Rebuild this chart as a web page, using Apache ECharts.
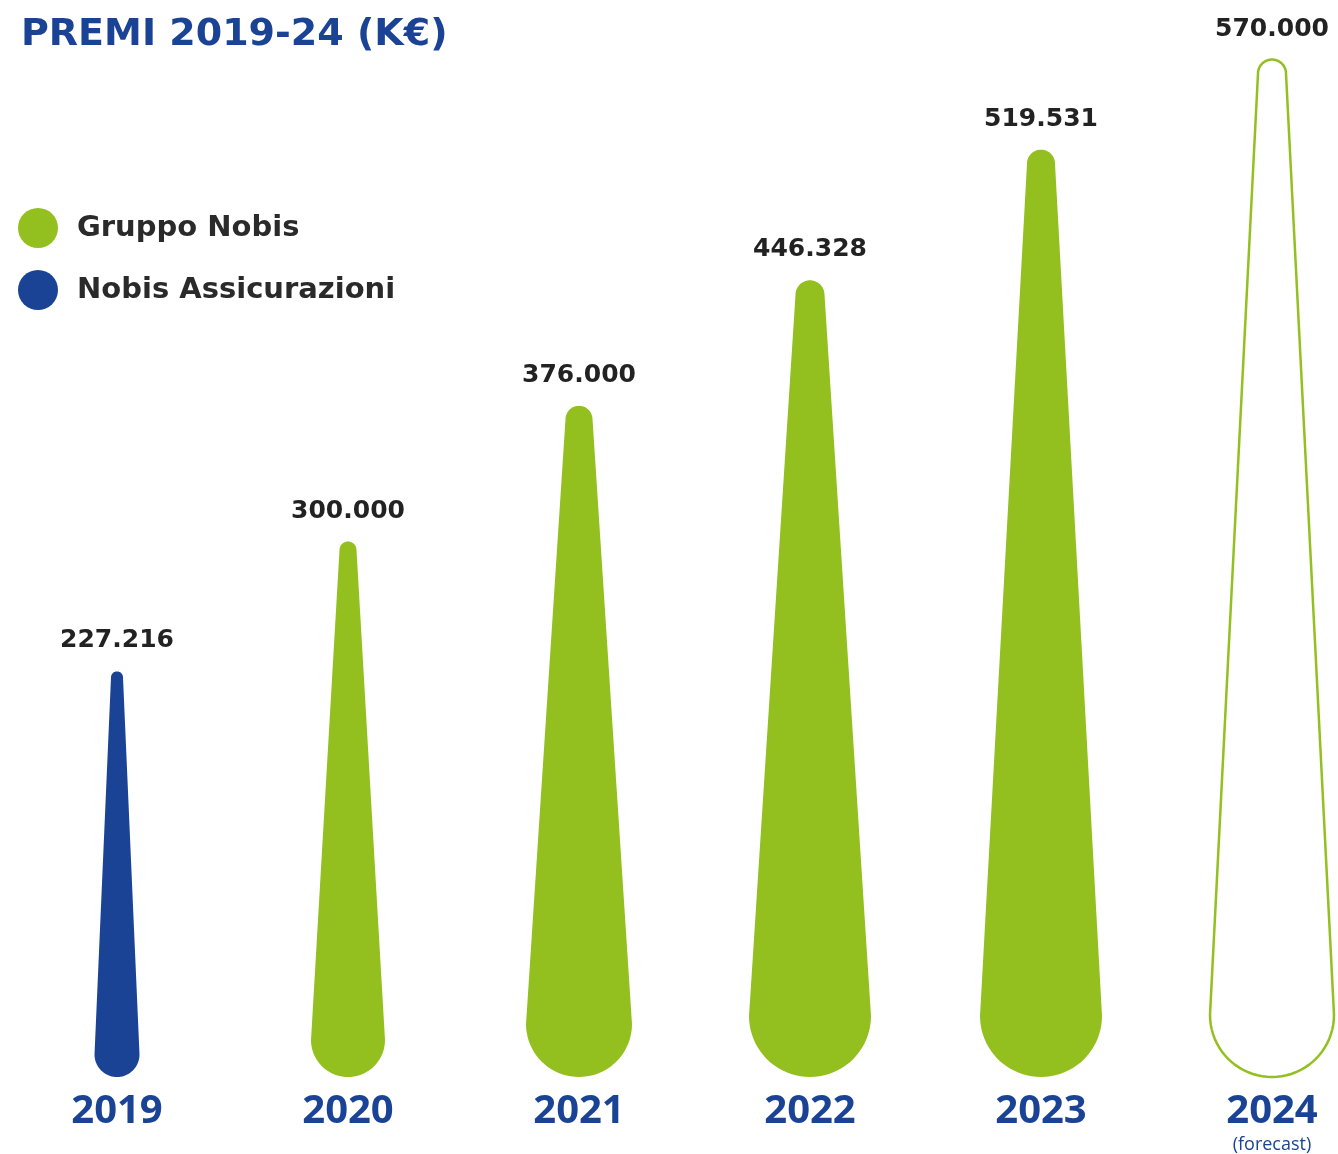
<!DOCTYPE html>
<html>
<head>
<meta charset="utf-8">
<script src="https://cdn.jsdelivr.net/npm/echarts@6/dist/echarts.min.js"></script>
<style>
  html, body { margin: 0; padding: 0; background: #ffffff; }
  #chart { width: 1338px; height: 1154px; }
</style>
</head>
<body>
<div id="chart"></div>
<script>
// ---- data ----
const years = ['2019', '2020', '2021', '2022', '2023', '2024'];
const nobisAssicurazioni = [227.216, null, null, null, null, null];
const gruppoNobis = [null, 300.000, 376.000, 446.328, 519.531, 570.000];
const forecastYear = '2024';
const titleText = 'PREMI 2019-24 (K€)';

// ---- style ----
const GREEN = '#93c01f';
const BLUE = '#1a4396';
const topWidths = [12, 17, 27, 29, 28, 28];
const bottomWidths = [45, 74, 106, 122, 122, 124];
const WIDE = '"DejaVu Sans", "Open Sans", sans-serif';
const FONT = '"Open Sans", "Noto Sans", sans-serif';

function fmt(v) { return v.toFixed(3); }

function renderDrop(params, api) {
  const idx = api.value(0);
  const val = api.value(1);
  if (val == null || isNaN(val)) return;
  const top = api.coord([idx, val]);
  const base = api.coord([idx, 0]);
  const x = top[0], yt = top[1], yb = base[1];
  const rt = topWidths[idx] / 2, rb = bottomWidths[idx] / 2;
  const pts = [];
  const N = 40;
  for (let k = 0; k <= N; k++) {
    const a = Math.PI + Math.PI * k / N;
    pts.push([x + rt * Math.cos(a), yt + rt + rt * Math.sin(a)]);
  }
  for (let k = 0; k <= N; k++) {
    const a = Math.PI * k / N;
    pts.push([x + rb * Math.cos(a), yb - rb + rb * Math.sin(a)]);
  }
  const color = api.visual('color');
  const forecast = years[idx] === forecastYear;
  return {
    type: 'group',
    children: [
      {
        type: 'polygon',
        shape: { points: pts },
        style: forecast
          ? { fill: '#ffffff', stroke: color, lineWidth: 2.5 }
          : { fill: color, stroke: null }
      },
      {
        type: 'text',
        x: x,
        y: yt - 18,
        style: {
          text: fmt(val),
          fill: '#222222',
          font: 'bold 25px ' + WIDE,
          align: 'center',
          verticalAlign: 'bottom'
        }
      }
    ]
  };
}

function toData(arr) {
  const out = [];
  arr.forEach((v, i) => { if (v != null) out.push([i, v]); });
  return out;
}

const chart = echarts.init(document.getElementById('chart'), null, { renderer: 'canvas' });
chart.setOption({
  backgroundColor: '#ffffff',
  animation: false,
  title: {
    text: titleText,
    left: 16,
    top: 11,
    textStyle: { fontFamily: WIDE, fontSize: 38, fontWeight: 'bold', color: BLUE }
  },
  legend: {
    orient: 'vertical',
    left: 13,
    top: 203,
    icon: 'circle',
    itemWidth: 40,
    itemHeight: 40,
    itemGap: 22,
    selectedMode: false,
    data: ['Gruppo Nobis', 'Nobis Assicurazioni'],
    textStyle: { fontFamily: WIDE, fontSize: 29, fontWeight: 'bold', color: '#2a2a2a', padding: [4, 0, 0, 14] }
  },
  grid: { left: 117, right: 66, top: 6, bottom: 77, containLabel: false },
  xAxis: {
    type: 'category',
    data: years,
    boundaryGap: false,
    axisLine: { show: false },
    axisTick: { show: false },
    splitLine: { show: false },
    axisLabel: {
      margin: 13,
      interval: 0,
      formatter: function (v) {
        return v === forecastYear ? '{y|' + v + '}\n{f|(forecast)}' : '{y|' + v + '}';
      },
      rich: {
        y: { fontFamily: FONT, fontSize: 40, fontWeight: 'bold', color: BLUE, lineHeight: 44 },
        f: { fontFamily: FONT, fontSize: 18, color: BLUE, lineHeight: 22 }
      }
    }
  },
  yAxis: {
    type: 'value',
    min: 0,
    max: 600,
    show: false,
    splitLine: { show: false }
  },
  series: [
    {
      name: 'Gruppo Nobis',
      type: 'custom',
      renderItem: renderDrop,
      itemStyle: { color: GREEN },
      encode: { x: 0, y: 1 },
      data: toData(gruppoNobis),
      clip: false
    },
    {
      name: 'Nobis Assicurazioni',
      type: 'custom',
      renderItem: renderDrop,
      itemStyle: { color: BLUE },
      encode: { x: 0, y: 1 },
      data: toData(nobisAssicurazioni),
      clip: false
    }
  ]
});
</script>
</body>
</html>
